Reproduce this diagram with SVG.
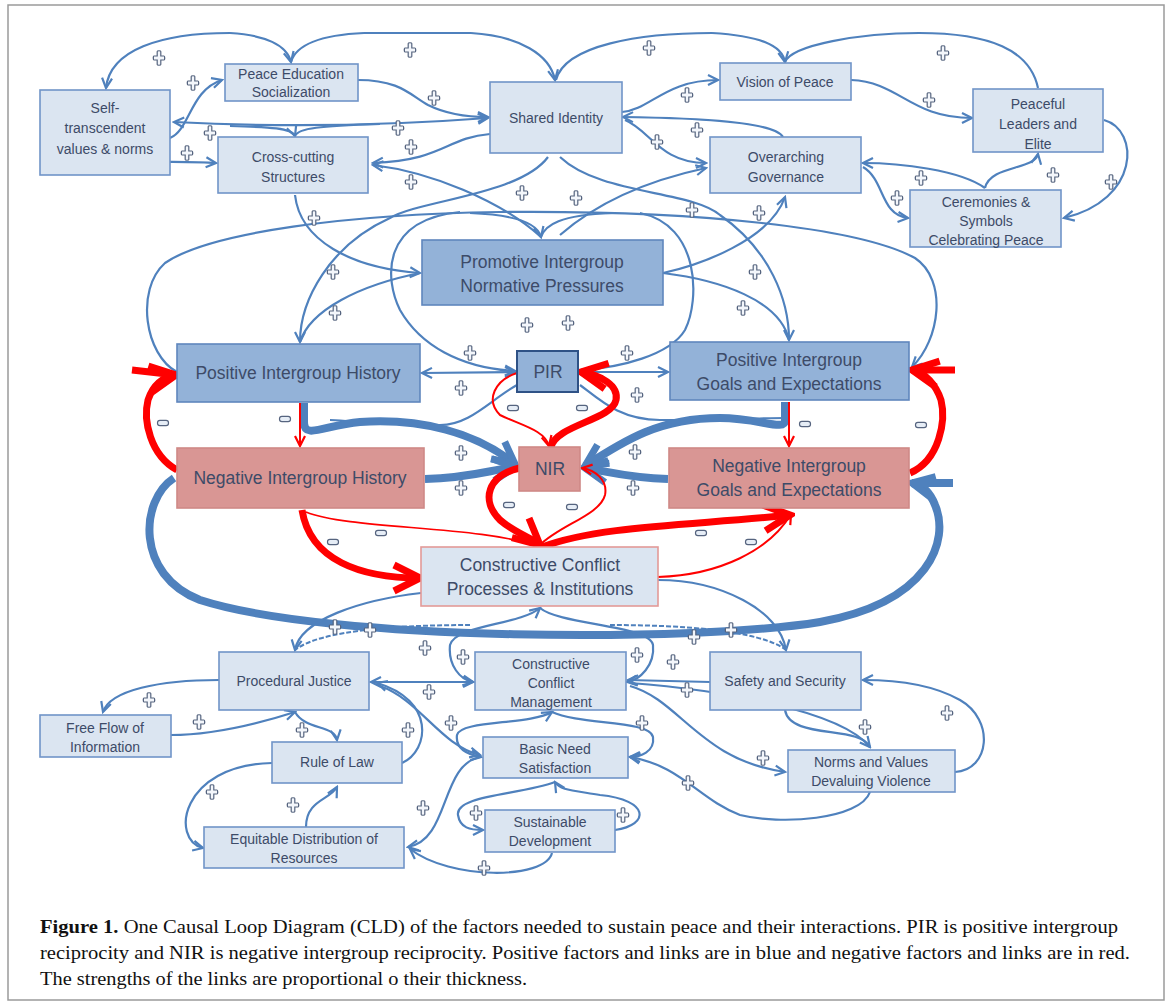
<svg xmlns="http://www.w3.org/2000/svg" xmlns:xlink="http://www.w3.org/1999/xlink" width="1171" height="1007" viewBox="0 0 1171 1007">
<style>
.n{fill:#dbe5f1;stroke:#7094c8;stroke-width:1.6}
.m{fill:#93b2d8;stroke:#5f86bd;stroke-width:1.6}
.r{fill:#d99694;stroke:#cf8986;stroke-width:1.6}
.pir{fill:#93b2d8;stroke:#2f5286;stroke-width:2}
.cc{fill:#dbe5f1;stroke:#e39a98;stroke-width:1.6}
text{font-family:"Liberation Sans",Arial,sans-serif;fill:#3d4b68;text-anchor:middle}
.s{font-size:14px}
.l{font-size:17.5px}
.b{fill:none;stroke:#4f81bd;stroke-width:2.2;marker-end:url(#ab)}
.bn{fill:none;stroke:#4f81bd;stroke-width:2.2}
.bd{fill:none;stroke:#4f81bd;stroke-width:2;stroke-dasharray:5 2}
.bt{fill:none;stroke:#4f81bd;stroke-width:8;marker-end:url(#abt)}
.btn{fill:none;stroke:#4f81bd;stroke-width:8}
.rt{fill:none;stroke:#ff0000;stroke-width:7;marker-end:url(#art)}
.rn{fill:none;stroke:#ff0000;stroke-width:2;marker-end:url(#ar)}
.rnn{fill:none;stroke:#ff0000;stroke-width:1.6}
.cap{font-family:"Liberation Serif","Times New Roman",serif;font-size:18px;fill:#111;text-anchor:start}
</style>
<defs>
<marker id="ab" viewBox="0 0 14 14" refX="12" refY="7" markerWidth="14" markerHeight="14" markerUnits="userSpaceOnUse" orient="auto-start-reverse"><path d="M2,2 L12,7 L2,12" fill="none" stroke="#4f81bd" stroke-width="2.2"/></marker>
<marker id="abt" viewBox="0 0 30 30" refX="26" refY="15" markerWidth="30" markerHeight="30" markerUnits="userSpaceOnUse" orient="auto-start-reverse"><path d="M4,4 L26,15 L4,26" fill="none" stroke="#4f81bd" stroke-width="7"/></marker>
<marker id="ar" viewBox="0 0 14 14" refX="12" refY="7" markerWidth="14" markerHeight="14" markerUnits="userSpaceOnUse" orient="auto-start-reverse"><path d="M2,2 L12,7 L2,12" fill="none" stroke="#ff0000" stroke-width="2.2"/></marker>
<marker id="art" viewBox="0 0 36 36" refX="31" refY="18" markerWidth="36" markerHeight="36" markerUnits="userSpaceOnUse" orient="auto-start-reverse"><path d="M5,5 L31,18 L5,31" fill="none" stroke="#ff0000" stroke-width="7"/></marker>
<path id="p" d="M-1.8,-6.5 C-1.8,-7.5 1.8,-7.5 1.8,-6.5 L1.8,-2 L5,-2 C6,-2 6,2 5,2 L1.8,2 L1.8,6.5 C1.8,7.5 -1.8,7.5 -1.8,6.5 L-1.8,2 L-5,2 C-6,2 -6,-2 -5,-2 L-1.8,-2 Z" fill="#f3f6fb" stroke="#56647f" stroke-width="1.2"/>
<rect id="mi" x="-5.5" y="-2.6" width="11" height="5.2" rx="2.4" fill="#e6edf6" stroke="#56647f" stroke-width="1.2"/>
</defs>
<rect x="8" y="5" width="1156" height="995" fill="#ffffff" stroke="#9a9a9a" stroke-width="1.5"/>

<g id="connectors">
<path class="b" d="M230,33 C265,35 287,45 291,62"/>
<path class="bn" d="M364,33 C320,35 296,45 291,62"/>
<path class="b" d="M230,33 C160,33 110,50 106,88"/>
<path class="b" d="M471,33 C520,36 550,55 555,80"/>
<path class="bn" d="M364,33 L471,33"/>
<path class="bn" d="M712,33 C640,33 565,45 556,80"/>
<path class="b" d="M712,33 C760,36 782,45 785,62"/>
<path class="bn" d="M919,33 C860,33 792,45 785,62"/>
<path class="bn" d="M1038,88 C1030,50 990,33 919,33"/>
<path class="b" d="M358,80 C400,80 410,95 428,105 C448,115 468,117 488,117"/>
<path class="b" style="marker-start:url(#ab)" d="M174,122 Q330,130 488,118"/>
<path class="b" d="M230,126 C270,127 292,128 295,136"/>
<path class="bn" d="M380,124 C320,126 298,128 295,136"/>
<path class="b" d="M170,138 C190,130 190,90 222,80"/>
<path class="b" d="M107,155 C120,165 180,160 216,163"/>
<path class="b" d="M490,134 C445,138 445,160 373,163"/>
<path class="b" d="M541,237 C500,200 430,172 373,165"/>
<path class="b" d="M295,195 C300,240 350,268 420,273"/>
<path class="b" d="M622,112 C650,110 665,80 718,80"/>
<path class="b" d="M783,137 C775,122 700,118 623,117"/>
<path class="b" d="M625,120 C650,130 660,163 706,163"/>
<path class="b" d="M851,80 C900,82 910,118 972,118"/>
<path class="b" d="M985,188 C990,165 1035,170 1038,154"/>
<path class="b" d="M985,188 C960,170 900,163 863,163"/>
<path class="b" d="M863,167 C885,180 880,215 908,218"/>
<path class="b" d="M1104,120 C1140,130 1140,200 1064,218"/>
<path class="b" d="M663,273 C700,265 770,240 785,197"/>
<path class="b" d="M560,235 C600,200 650,180 706,168"/>
<path class="b" d="M177,372 C145,355 135,290 165,263 C210,232 350,214 500,212 C700,210 860,228 915,258 C948,280 940,340 912,367"/>
<path class="b" d="M548,157 C520,195 420,200 390,218 C330,245 300,300 300,342"/>
<path class="bn" d="M420,273 C360,285 310,310 300,342"/>
<path class="b" d="M560,157 C600,195 690,190 720,215 C770,250 789,300 789,340"/>
<path class="bn" d="M663,273 C720,280 780,300 789,340"/>
<path class="b" d="M470,213 C520,215 538,225 541,237"/>
<path class="bn" d="M612,213 C560,215 545,225 541,237"/>
<path class="b" d="M460,212 C380,220 385,280 400,310 C420,345 460,368 515,371"/>
<path class="bn" d="M640,213 C700,225 700,300 685,330 C670,355 620,368 580,370"/>
<path class="b" style="marker-start:url(#ab)" d="M422,373 L515,372"/>
<path class="b" d="M580,372 L668,372"/>
<path class="bn" d="M517,385 C490,400 470,425 440,425 C380,425 340,420 330,420"/>
<path class="bn" d="M580,385 C600,400 620,420 660,420 C720,420 770,418 785,418"/>
<path class="bt" d="M304,403 L304,422 C304,440 325,425 360,422 C420,418 475,432 515,464"/>
<path class="bt" d="M425,479 C470,478 490,470 515,467"/>
<path class="bt" d="M785,402 L785,420 C785,432 760,418 720,418 C660,418 625,440 585,466"/>
<path class="bt" d="M668,479 C630,478 610,472 585,468"/>
<path class="bt" d="M174,478 C140,500 135,575 200,600 C330,642 700,642 820,622 C930,602 950,540 935,505 C930,492 922,485 912,483"/>
<path class="btn" d="M912,483 L953,483"/>
<path class="rt" d="M177,470 C150,455 143,420 148,400 C153,385 163,377 176,375"/>
<path class="rnn" style="stroke-width:7" d="M176,375 L132,370"/>
<path class="rt" d="M910,473 C940,460 946,420 941,400 C936,385 925,372 912,370"/>
<path class="rnn" style="stroke-width:7" d="M912,370 L955,370"/>
<path class="rn" d="M300,403 L300,446"/>
<path class="rn" d="M789,402 L789,446"/>
<path class="rt" d="M520,468 C488,475 480,500 500,520 C515,533 532,538 540,545"/>
<path class="rt" d="M551,447 C556,425 612,420 616,400 C619,385 600,375 581,372"/>
<path class="rn" d="M517,373 C495,380 485,400 500,415 C520,425 545,430 549,446"/>
<path class="rn" d="M540,545 C560,525 600,515 605,495 C608,480 595,470 582,468"/>
<path class="rt" d="M302,510 C310,560 360,578 420,578"/>
<path class="rnn" d="M306,512 C350,530 480,525 540,547"/>
<path class="rt" d="M542,547 C600,525 700,525 790,515"/>
<path class="rn" d="M658,577 C720,575 770,550 791,514"/>
<path class="b" d="M421,593 C360,600 300,620 295,650"/>
<path class="bd" d="M470,625 C400,625 320,630 295,650"/>
<path class="b" d="M658,580 C720,580 780,610 786,650"/>
<path class="bd" d="M610,625 C680,625 760,630 786,650"/>
<path class="b" style="marker-start:url(#ab)" d="M540,608 C520,625 455,625 450,645 C448,665 460,680 473,682"/>
<path class="b" d="M540,608 C560,625 650,625 653,645 C655,665 640,680 627,682"/>
<path class="b" style="marker-start:url(#ab)" d="M371,682 L473,682"/>
<path class="b" d="M219,680 C160,680 110,690 103,712"/>
<path class="b" d="M171,735 C220,735 270,720 295,712"/>
<path class="b" d="M295,712 C305,730 335,725 337,740"/>
<path class="b" d="M402,763 C430,750 435,700 377,683"/>
<path class="b" d="M380,686 C420,700 440,745 480,755"/>
<path class="b" d="M272,763 C180,765 170,840 203,848"/>
<path class="b" d="M306,827 C306,800 330,800 337,787"/>
<path class="b" d="M480,757 C440,765 450,840 408,847"/>
<path class="b" d="M552,853 C545,880 450,880 410,849"/>
<path class="b" d="M555,782 C520,795 455,795 458,815 C460,828 470,830 483,830"/>
<path class="b" d="M615,830 C650,825 650,800 600,795 C570,790 560,790 555,782"/>
<path class="b" style="marker-start:url(#ab)" d="M552,712 C530,725 460,720 457,735 C455,750 470,755 481,757"/>
<path class="b" d="M552,712 C580,725 650,720 653,737 C655,752 640,757 630,757"/>
<path class="b" d="M710,682 L628,680"/>
<path class="b" d="M630,686 C680,700 700,760 785,772"/>
<path class="b" d="M630,683 C720,690 840,710 870,747"/>
<path class="bn" d="M785,710 C790,740 860,725 870,747"/>
<path class="b" d="M955,772 C990,770 995,720 960,700 C930,683 890,680 863,680"/>
<path class="b" d="M870,792 C860,820 780,825 740,815 C700,800 680,765 630,757"/>
<g id="polarity">
<use href="#p" x="159" y="58"/><use href="#p" x="410" y="50"/><use href="#p" x="649" y="48"/><use href="#p" x="943" y="53"/>
<use href="#p" x="434" y="98"/><use href="#p" x="193" y="83"/><use href="#p" x="210" y="133"/><use href="#p" x="398" y="128"/>
<use href="#p" x="187" y="153"/><use href="#p" x="411" y="147"/><use href="#p" x="411" y="182"/><use href="#p" x="314" y="218"/>
<use href="#p" x="687" y="95"/><use href="#p" x="697" y="130"/><use href="#p" x="657" y="142"/><use href="#p" x="929" y="100"/>
<use href="#p" x="921" y="178"/><use href="#p" x="1053" y="175"/><use href="#p" x="897" y="198"/><use href="#p" x="1111" y="182"/>
<use href="#p" x="759" y="213"/><use href="#p" x="522" y="193"/><use href="#p" x="576" y="198"/><use href="#p" x="333" y="272"/>
<use href="#p" x="335" y="313"/><use href="#p" x="755" y="272"/><use href="#p" x="743" y="308"/><use href="#p" x="692" y="210"/>
<use href="#p" x="527" y="325"/><use href="#p" x="568" y="323"/><use href="#p" x="470" y="353"/><use href="#p" x="461" y="388"/>
<use href="#p" x="627" y="353"/><use href="#p" x="637" y="395"/><use href="#p" x="461" y="453"/><use href="#p" x="461" y="488"/>
<use href="#p" x="635" y="452"/><use href="#p" x="633" y="488"/>
<use href="#p" x="335" y="627"/><use href="#p" x="370" y="630"/><use href="#p" x="694" y="637"/><use href="#p" x="731" y="630"/>
<use href="#p" x="425" y="648"/><use href="#p" x="463" y="657"/><use href="#p" x="637" y="655"/><use href="#p" x="673" y="662"/>
<use href="#p" x="429" y="692"/><use href="#p" x="687" y="690"/><use href="#p" x="149" y="700"/><use href="#p" x="199" y="722"/>
<use href="#p" x="302" y="730"/><use href="#p" x="408" y="730"/><use href="#p" x="451" y="723"/><use href="#p" x="642" y="723"/>
<use href="#p" x="865" y="727"/><use href="#p" x="947" y="713"/><use href="#p" x="763" y="758"/><use href="#p" x="688" y="783"/>
<use href="#p" x="212" y="792"/><use href="#p" x="293" y="805"/><use href="#p" x="423" y="808"/><use href="#p" x="476" y="813"/>
<use href="#p" x="623" y="815"/><use href="#p" x="484" y="868"/>
<use href="#mi" x="163" y="423"/><use href="#mi" x="285" y="419"/><use href="#mi" x="513" y="408"/><use href="#mi" x="582" y="408"/>
<use href="#mi" x="805" y="424"/><use href="#mi" x="921" y="425"/><use href="#mi" x="509" y="505"/><use href="#mi" x="572" y="507"/>
<use href="#mi" x="333" y="542"/><use href="#mi" x="381" y="533"/><use href="#mi" x="701" y="533"/><use href="#mi" x="751" y="542"/>
</g>
</g>

<g id="selftrans"><rect class="n" x="40" y="90" width="130" height="85"/><text class="s" x="105" y="113">Self-</text><text class="s" x="105" y="133">transcendent</text><text class="s" x="105" y="154">values &amp; norms</text></g>
<g id="peaceed"><rect class="n" x="225" y="64" width="133" height="37"/><text class="s" x="291" y="79">Peace Education</text><text class="s" x="291" y="97">Socialization</text></g>
<g id="shared"><rect class="n" x="490" y="82" width="132" height="71"/><text class="s" x="556" y="123">Shared Identity</text></g>
<g id="crosscut"><rect class="n" x="218" y="137" width="150" height="56"/><text class="s" x="293" y="162">Cross-cutting</text><text class="s" x="293" y="182">Structures</text></g>
<g id="vision"><rect class="n" x="720" y="63" width="131" height="37"/><text class="s" x="785" y="87">Vision of Peace</text></g>
<g id="leaders"><rect class="n" x="973" y="89" width="130" height="63"/><text class="s" x="1038" y="109">Peaceful</text><text class="s" x="1038" y="129">Leaders and</text><text class="s" x="1038" y="149">Elite</text></g>
<g id="overgov"><rect class="n" x="710" y="137" width="151" height="56"/><text class="s" x="786" y="162">Overarching</text><text class="s" x="786" y="182">Governance</text></g>
<g id="ceremonies"><rect class="n" x="910" y="190" width="151" height="57"/><text class="s" x="986" y="207">Ceremonies &amp;</text><text class="s" x="986" y="226">Symbols</text><text class="s" x="986" y="245">Celebrating Peace</text></g>
<g id="promotive"><rect class="m" x="422" y="240" width="241" height="65"/><text class="l" x="542" y="268">Promotive Intergroup</text><text class="l" x="542" y="292">Normative Pressures</text></g>
<g id="pih"><rect class="m" x="177" y="344" width="243" height="58"/><text class="l" x="298" y="379">Positive Intergroup History</text></g>
<g id="pir"><rect class="pir" x="517" y="351" width="61" height="41"/><text class="l" x="548" y="378">PIR</text></g>
<g id="pige"><rect class="m" x="670" y="342" width="239" height="58"/><text class="l" x="789" y="366">Positive Intergroup</text><text class="l" x="789" y="390">Goals and Expectations</text></g>
<g id="nih"><rect class="r" x="177" y="448" width="247" height="60"/><text class="l" x="300" y="484">Negative Intergroup History</text></g>
<g id="nir"><rect class="r" x="519" y="447" width="61" height="44"/><text class="l" x="550" y="475">NIR</text></g>
<g id="nige"><rect class="r" x="669" y="448" width="240" height="60"/><text class="l" x="789" y="472">Negative Intergroup</text><text class="l" x="789" y="496">Goals and Expectations</text></g>
<g id="ccpi"><rect class="cc" x="421" y="547" width="237" height="59"/><text class="l" x="540" y="571">Constructive Conflict</text><text class="l" x="540" y="595">Processes &amp; Institutions</text></g>
<g id="procjust"><rect class="n" x="219" y="652" width="150" height="58"/><text class="s" x="294" y="686">Procedural Justice</text></g>
<g id="ccm"><rect class="n" x="475" y="652" width="151" height="58"/><text class="s" x="551" y="669">Constructive</text><text class="s" x="551" y="688">Conflict</text><text class="s" x="551" y="707">Management</text></g>
<g id="safety"><rect class="n" x="710" y="652" width="151" height="58"/><text class="s" x="785" y="686">Safety and Security</text></g>
<g id="freeflow"><rect class="n" x="40" y="715" width="131" height="42"/><text class="s" x="105" y="733">Free Flow of</text><text class="s" x="105" y="752">Information</text></g>
<g id="rulelaw"><rect class="n" x="272" y="742" width="130" height="41"/><text class="s" x="337" y="767">Rule of Law</text></g>
<g id="basicneed"><rect class="n" x="483" y="737" width="145" height="41"/><text class="s" x="555" y="754">Basic Need</text><text class="s" x="555" y="773">Satisfaction</text></g>
<g id="norms"><rect class="n" x="788" y="750" width="167" height="42"/><text class="s" x="871" y="767">Norms and Values</text><text class="s" x="871" y="786">Devaluing Violence</text></g>
<g id="equitable"><rect class="n" x="204" y="827" width="200" height="41"/><text class="s" x="304" y="844">Equitable Distribution of</text><text class="s" x="304" y="863">Resources</text></g>
<g id="sustain"><rect class="n" x="485" y="810" width="130" height="42"/><text class="s" x="550" y="827">Sustainable</text><text class="s" x="550" y="846">Development</text></g>

<g id="caption">
<text class="cap" x="40" y="933" textLength="1078" lengthAdjust="spacingAndGlyphs"><tspan font-weight="bold">Figure 1.</tspan> One Causal Loop Diagram (CLD) of the factors needed to sustain peace and their interactions. PIR is positive intergroup</text>
<text class="cap" x="40" y="959" textLength="1090" lengthAdjust="spacingAndGlyphs">reciprocity and NIR is negative intergroup reciprocity. Positive factors and links are in blue and negative factors and links are in red.</text>
<text class="cap" x="40" y="985" textLength="487" lengthAdjust="spacingAndGlyphs">The strengths of the links are proportional o their thickness.</text>
</g>
</svg>
